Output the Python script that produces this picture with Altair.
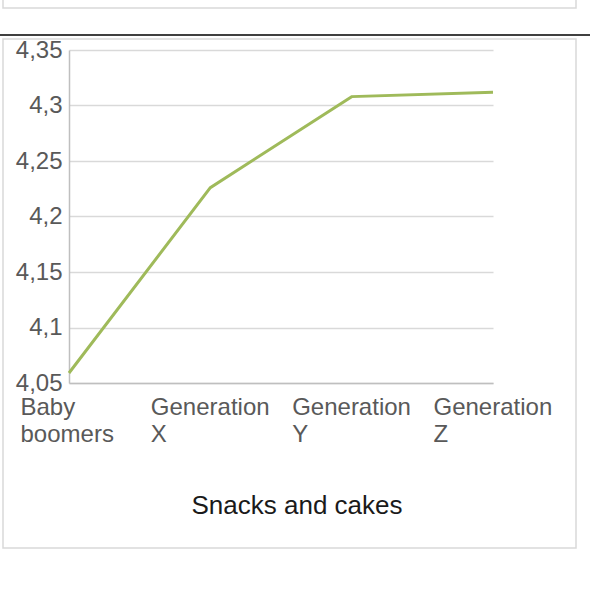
import altair as alt
import pandas as pd

categories = ["Baby boomers", "Generation X", "Generation Y", "Generation Z"]
values = [4.059, 4.226, 4.308, 4.312]
y_ticks = [4.05, 4.10, 4.15, 4.20, 4.25, 4.30, 4.35]
title_text = "Snacks and cakes"

df = pd.DataFrame({"generation": categories, "score": values})

FONT = "Liberation Sans"
LABEL_COLOR = "#595959"
FRAME = "#d9d9d9"

blank = alt.Data(values=[{}])

top_box = alt.Chart(blank).mark_rect(fillOpacity=0, stroke=FRAME, strokeWidth=1.5).encode(
    x=alt.value(-66), x2=alt.value(507), y=alt.value(-70), y2=alt.value(-42)
)
black_line = alt.Chart(blank).mark_rule(color="black", strokeWidth=1.5).encode(
    x=alt.value(-69), x2=alt.value(521), y=alt.value(-15)
)
main_box = alt.Chart(blank).mark_rect(fillOpacity=0, stroke=FRAME, strokeWidth=1.5).encode(
    x=alt.value(-66), x2=alt.value(507), y=alt.value(-11), y2=alt.value(498)
)

line = alt.Chart(df).mark_line(color="#9fba5a", strokeWidth=3).encode(
    x=alt.X(
        "generation:N",
        sort=categories,
        scale=alt.Scale(type="point", padding=0),
        axis=alt.Axis(
            title=None,
            orient="bottom",
            labelAngle=0,
            labelAlign="left",
            labelBaseline="top",
            labelPadding=12,
            labelLineHeight=27,
            labelExpr="split(datum.value, ' ')",
            labelOffset={"condition": {"test": "datum.value == 'Baby boomers'", "value": -49}, "value": -60},
            labelOverlap=False,
            labelFont=FONT,
            labelFontSize=24,
            labelColor=LABEL_COLOR,
            ticks=False,
            grid=False,
            domain=True,
            domainColor="#bfbfbf",
            domainWidth=1.5,
        ),
    ),
    y=alt.Y(
        "score:Q",
        scale=alt.Scale(domain=[4.05, 4.35], nice=False, zero=False),
        axis=alt.Axis(
            title=None,
            values=y_ticks,
            labelExpr="replace(format(datum.value, '.2~f'), '.', ',')",
            labelFont=FONT,
            labelFontSize=24,
            labelColor=LABEL_COLOR,
            labelPadding=7,
            ticks=False,
            grid=True,
            gridColor=FRAME,
            gridWidth=1.5,
            domain=True,
            domainColor="#bfbfbf",
            domainWidth=1.5,
        ),
    ),
)

chart = alt.layer(top_box, black_line, main_box, line).properties(
    width=424,
    height=333,
    padding={"left": 69, "top": 50, "right": 97, "bottom": 213},
    autosize=alt.AutoSizeParams(type="none"),
    title=alt.TitleParams(
        text=title_text,
        orient="bottom",
        anchor="middle",
        dx=16,
        offset=-56,
        font=FONT,
        fontSize=26,
        fontWeight="normal",
        color="#1a1a1a",
    ),
    background="white",
).configure_view(strokeOpacity=0)

chart.save("out.html", embed_options={"renderer": "svg", "actions": False})
